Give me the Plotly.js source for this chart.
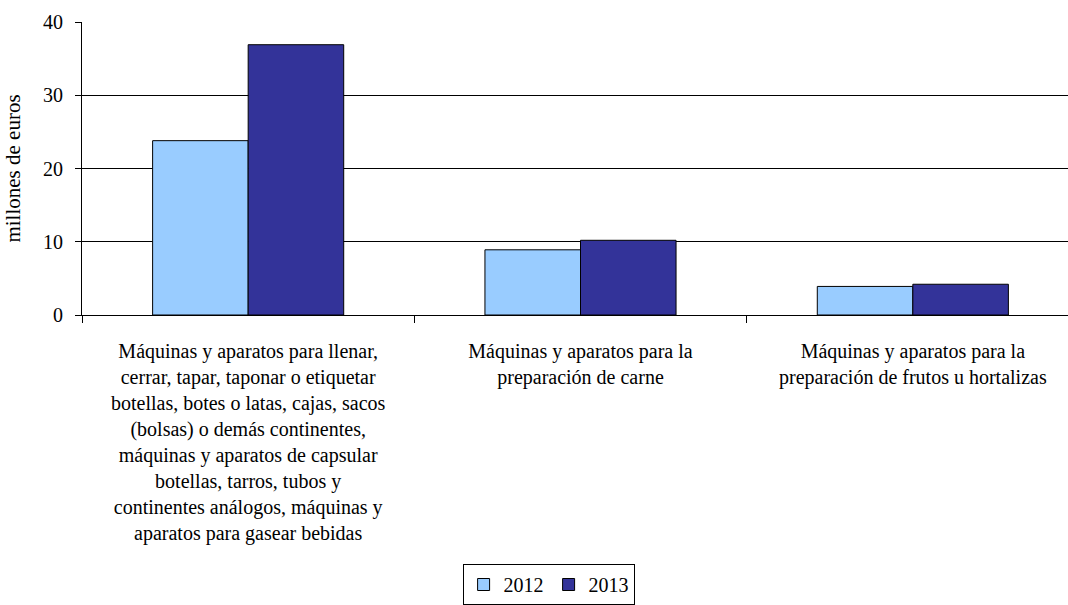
<!DOCTYPE html>
<html>
<head>
<meta charset="utf-8">
<script src="https://cdn.plot.ly/plotly-3.0.1.min.js"></script>
<style>
html,body{margin:0;padding:0;overflow:hidden;background:#fff;}
#chart svg text{font-family:"Liberation Serif","Times New Roman",serif !important;}
</style>
</head>
<body>
<div id="chart"></div>
<script>
const categories = [
  "Máquinas y aparatos para llenar,<br>cerrar, tapar, taponar o etiquetar<br>botellas, botes o latas, cajas, sacos<br>(bolsas) o demás continentes,<br>máquinas y aparatos de capsular<br>botellas, tarros, tubos y<br>continentes análogos, máquinas y<br>aparatos para gasear bebidas",
  "Máquinas y aparatos para la<br>preparación de carne",
  "Máquinas y aparatos para la<br>preparación de frutos u hortalizas"
];
const values2012 = [23.8, 8.9, 3.9];
const values2013 = [36.9, 10.2, 4.2];
const seriesNames = ["2012", "2013"];

const FAM = "Liberation Serif";
const f = (s) => ({family: FAM, color: "#000", size: s});

const traces = [
  {type: "bar", name: seriesNames[0], x: categories, y: values2012,
   marker: {color: "#99CCFF", line: {color: "#000", width: 1}}},
  {type: "bar", name: seriesNames[1], x: categories, y: values2013,
   marker: {color: "#333399", line: {color: "#000", width: 1}}}
];

const layout = {
  width: 1080, height: 605,
  margin: {l: 82, r: 1, t: 22, b: 289},
  paper_bgcolor: "#fff", plot_bgcolor: "#fff",
  font: f(20),
  barmode: "group",
  bargap: 0.425,
  bargroupgap: 0,
  showlegend: true,
  legend: {orientation: "h", x: 0.468, xanchor: "center", y: -0.985, yanchor: "bottom",
           bordercolor: "#000", borderwidth: 1, font: f(20),
           itemwidth: 30, tracegroupgap: 0},
  xaxis: {
    type: "category",
    showline: true, linecolor: "#000", linewidth: 1,
    ticks: "outside", tickson: "boundaries", ticklen: 7, tickcolor: "#000",
    tickfont: f(20), showgrid: false, zeroline: false,
    tickangle: 0, ticklabelstandoff: 18
  },
  yaxis: {
    range: [0, 40], dtick: 10,
    showline: true, linecolor: "#000", linewidth: 1,
    ticks: "outside", ticklen: 6, tickcolor: "#000",
    showgrid: true, gridcolor: "#000", gridwidth: 1,
    zeroline: false,
    tickfont: f(20), ticklabelstandoff: 8,
    title: {text: "millones de euros", font: f(21), standoff: 16}
  }
};

Plotly.newPlot("chart", traces, layout, {displayModeBar: false, staticPlot: true});
</script>
</body>
</html>
